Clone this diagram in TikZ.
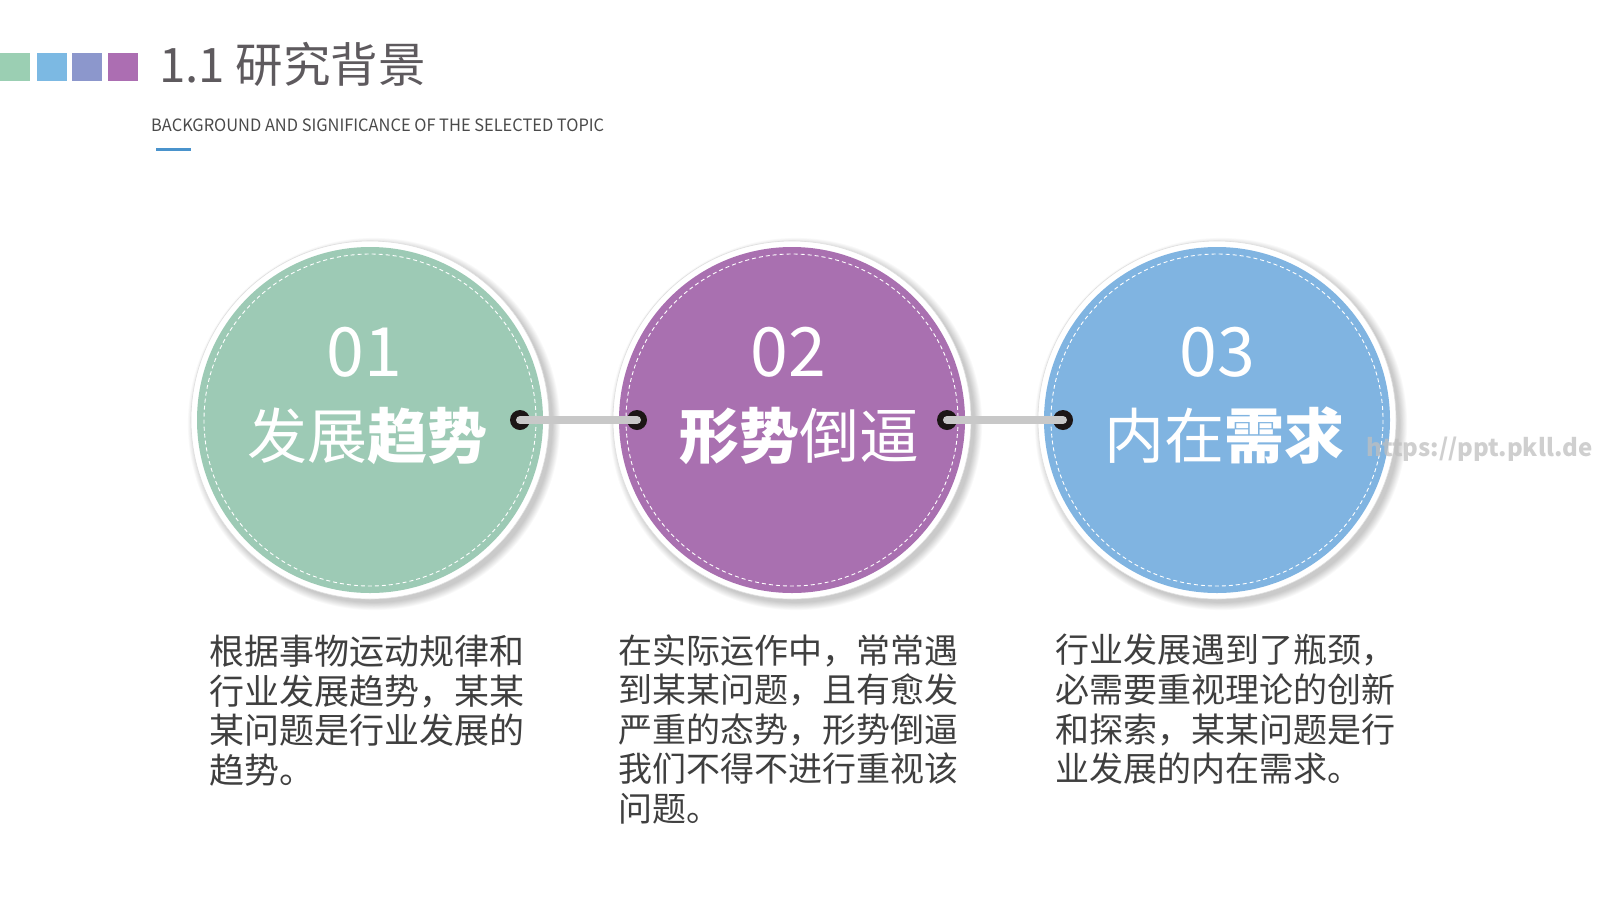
\documentclass[tikz,border=0pt]{standalone}
\usepackage{fontspec}
\usepackage{graphicx}
\setmainfont{Noto Sans CJK SC}
\usetikzlibrary{calc}
\definecolor{cgreen}{HTML}{9DCAB5}
\definecolor{cpurple}{HTML}{A970B0}
\definecolor{cblue}{HTML}{80B4E1}
\definecolor{sqgreen}{HTML}{9BCFB3}
\definecolor{sqblue}{HTML}{7CB9E3}
\definecolor{sqperi}{HTML}{8C97CC}
\definecolor{sqpurple}{HTML}{AC6EB2}
\definecolor{titlegray}{HTML}{5E5A5E}
\definecolor{subgray}{HTML}{4A4A4A}
\definecolor{bodygray}{HTML}{3F3F3F}
\definecolor{lineblue}{HTML}{4A93CC}
\definecolor{bargray}{HTML}{C8C8C8}
\definecolor{dotblack}{HTML}{1C1616}
\tikzset{
  sq/.style={inner sep=0pt, minimum width=30pt, minimum height=28pt, anchor=north west},
  disc/.style={circle, inner sep=0pt, minimum size=346pt},
  numtext/.style={text=white, font=\fontsize{68}{70}\selectfont, inner sep=0pt},
  headtext/.style={text=white, font=\fontsize{60}{64}\selectfont, inner sep=0pt},
  bodytext/.style={text=bodygray, font=\fontsize{34}{39.6}\selectfont, align=left, anchor=north west, inner sep=0pt},
  dotnode/.style={circle, fill=dotblack, inner sep=0pt, minimum size=20pt},
  bar/.style={line width=8pt, color=bargray, line cap=round},
}
\newcommand{\mydisc}[3]{%
  \foreach \k in {1,...,9}{
    \fill[black, opacity=0.024] (#1+4,424) circle ({178+\k*0.9});
  }
  \fill[white] (#1,420) circle (179);
  \draw[gray!25, line width=0.6pt] (#1,420) circle (179);
  \node[disc, fill=#2] (#3) at (#1,420) {};
  \draw[white, line width=0.9pt, dash pattern=on 4pt off 3pt] (#1,420) circle (166);
}
\begin{document}
\begin{tikzpicture}[x=1pt,y=-1pt]
\useasboundingbox[fill=white] (0,0) rectangle (1600,900);

% header squares
\node[sq, fill=sqgreen] (s1) at (0,53) {};
\node[sq, fill=sqblue] (s2) at (37,53) {};
\node[sq, fill=sqperi] (s3) at (72,53) {};
\node[sq, fill=sqpurple] (s4) at (108,53) {};

\node[anchor=west, inner sep=0pt, text=titlegray, font=\fontsize{47.5}{50}\selectfont] (title) at (159,64) {1.1 研究背景};
\node[anchor=west, inner sep=0pt, text=subgray, font=\fontsize{17}{19}\selectfont] (sub) at (151,125) {\scalebox{0.965}[1]{BACKGROUND AND SIGNIFICANCE OF THE SELECTED TOPIC}};
\draw[line width=3pt, color=lineblue] (156,149) -- (191,149);

% circles
\mydisc{370}{cgreen}{c1}
\mydisc{792}{cpurple}{c2}
\mydisc{1217}{cblue}{c3}

\node[numtext] (n1) at (364,352) {01};
\node[numtext] (n2) at (788,352) {02};
\node[numtext] (n3) at (1217,352) {03};

\node[headtext] (h1) at (367,436) {发展{\bfseries 趋势}};
\node[headtext] (h2) at (799,436) {{\bfseries 形势}倒逼};
\node[headtext] (h3) at (1224,436) {内在{\bfseries 需求}};

% connectors
\node[dotnode] (d1) at (520,420) {};
\node[dotnode] (d2) at (637,420) {};
\node[dotnode] (d3) at (947,420) {};
\node[dotnode] (d4) at (1063,420) {};
\draw[bar] (d1.center) -- (d2.center);
\draw[bar] (d3.center) -- (d4.center);

% body texts
\node[bodytext, font=\fontsize{35}{39.6}\selectfont] (t1) at (209,635) {根据事物运动规律和\\行业发展趋势，某某\\某问题是行业发展的\\趋势。};
\node[bodytext] (t2) at (618,634) {在实际运作中，常常遇\\到某某问题，且有愈发\\严重的态势，形势倒逼\\我们不得不进行重视该\\问题。};
\node[bodytext] (t3) at (1055,634) {行业发展遇到了瓶颈，\\必需要重视理论的创新\\和探索，某某问题是行\\业发展的内在需求。};

% watermark
\node[anchor=west, inner sep=0pt, text=gray!50, opacity=0.75, font=\bfseries\fontsize{24}{26}\selectfont] (wm) at (1366,449) {https://ppt.pkll.de};
\end{tikzpicture}
\end{document}
